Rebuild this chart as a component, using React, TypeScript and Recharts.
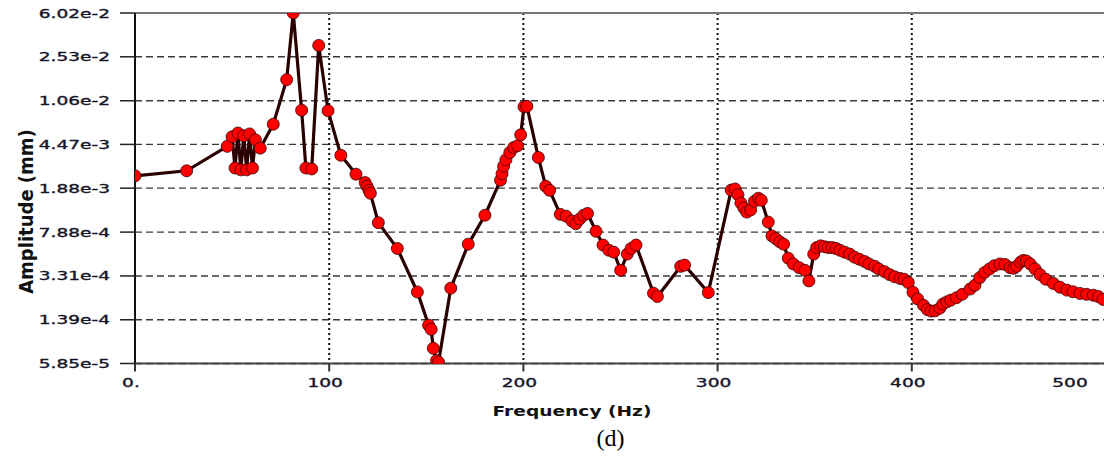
import React from 'react';
import { LineChart, Line, XAxis, YAxis, CartesianGrid, ReferenceLine } from 'recharts';

const frequencyHz = [
  0, 26.6, 47.5, 50, 51.5, 53, 54.5, 56, 57.5, 59, 60.5, 62, 64.5, 71.2, 78.1, 81.5, 85.8, 88, 91, 94.6,
  99.4, 106, 113.8, 118.5, 119.5, 120.5, 121.2, 125.3, 135.1, 145.4, 151.2, 152.5, 153.6, 155.3, 156.3,
  162.6, 171.6, 180.2, 188.2, 189, 189.8, 191, 193, 195, 197, 198.6, 200.3, 201.8, 207.7, 211.5, 213.5,
  219, 222, 225, 227, 229, 231, 233, 237.4, 241, 244, 246.5, 250.1, 253.5, 255.5, 258, 267, 269, 281, 283,
  295.2, 307, 309, 310.5, 312, 313.5, 315, 317, 319, 321, 322.5, 326.1, 328, 330, 332, 334, 336.4, 339,
  342, 345, 347, 349.5, 351, 353, 355, 357, 359, 361, 363, 365.4, 368, 370.5, 373, 375.7, 378, 380.9, 383,
  386, 388.5, 391.2, 394, 396, 398.2, 400.6, 403, 406, 408, 410, 412, 414.5, 416, 418, 420, 423, 426, 430,
  432.5, 435, 437.5, 440, 442.5, 445.4, 448, 450.6, 452.5, 454, 456, 457.4, 459, 461, 463.5, 466, 469,
  472.9, 476.3, 479.8, 483, 486.6, 490, 493.5, 496, 498.5,
];

const amplitudeMm = [
  2.4e-3, 2.65e-3, 4.3e-3, 5.2e-3, 2.8e-3, 5.6e-3, 2.7e-3, 5.3e-3, 2.7e-3, 5.5e-3, 2.8e-3, 4.9e-3, 4.15e-3,
  6.66e-3, 1.61e-2, 6.02e-2, 8.8e-3, 2.8e-3, 2.75e-3, 3.17e-2,
  8.7e-3, 3.6e-3, 2.48e-3, 2.1e-3, 1.95e-3, 1.8e-3, 1.7e-3, 9.5e-4, 5.7e-4, 2.41e-4, 1.25e-4, 1.15e-4,
  7.9e-5, 6.2e-5, 6.0e-5,
  2.6e-4, 6.2e-4, 1.1e-3, 2.2e-3, 2.5e-3, 2.9e-3, 3.3e-3, 3.8e-3, 4.2e-3, 4.35e-3, 5.4e-3, 9.4e-3, 9.5e-3,
  3.45e-3, 1.95e-3, 1.8e-3,
  1.12e-3, 1.08e-3, 9.8e-4, 9.3e-4, 1.02e-3, 1.1e-3, 1.14e-3, 8.0e-4, 6.1e-4, 5.5e-4, 5.3e-4, 3.7e-4,
  5.1e-4, 5.7e-4, 6.1e-4, 2.35e-4, 2.2e-4, 4.0e-4, 4.1e-4,
  2.38e-4, 1.81e-3, 1.85e-3, 1.65e-3, 1.4e-3, 1.27e-3, 1.17e-3, 1.22e-3, 1.45e-3, 1.54e-3, 1.48e-3,
  9.6e-4, 7.3e-4, 6.9e-4, 6.5e-4, 6.2e-4, 4.7e-4, 4.2e-4,
  3.9e-4, 3.7e-4, 3.0e-4, 5.1e-4, 5.8e-4, 6.0e-4, 5.9e-4, 5.8e-4, 5.8e-4, 5.7e-4, 5.5e-4, 5.3e-4, 5.1e-4,
  4.8e-4, 4.6e-4, 4.4e-4, 4.2e-4, 4.0e-4, 3.8e-4,
  3.6e-4, 3.4e-4, 3.25e-4, 3.15e-4, 3.1e-4, 2.9e-4, 2.4e-4, 2.1e-4, 1.85e-4, 1.7e-4, 1.65e-4, 1.66e-4,
  1.75e-4, 1.9e-4, 1.98e-4, 2.05e-4, 2.15e-4, 2.3e-4, 2.55e-4,
  2.75e-4, 3.2e-4, 3.55e-4, 3.8e-4, 4.05e-4, 4.2e-4, 4.15e-4, 3.9e-4, 3.85e-4, 4.0e-4, 4.35e-4, 4.5e-4,
  4.45e-4, 4.2e-4, 3.8e-4, 3.4e-4, 3.1e-4,
  2.85e-4, 2.65e-4, 2.5e-4, 2.42e-4, 2.34e-4, 2.3e-4, 2.26e-4, 2.2e-4, 2.08e-4,
];

const xTicks = [0, 100, 200, 300, 400, 500];
const xTickLabels = ['0.', '100', '200', '300', '400', '500'];
const yTicks = [5.85e-5, 1.39e-4, 3.31e-4, 7.88e-4, 1.88e-3, 4.47e-3, 1.06e-2, 2.53e-2, 6.02e-2];
const yTickLabels = ['5.85e-5', '1.39e-4', '3.31e-4', '7.88e-4', '1.88e-3', '4.47e-3', '1.06e-2', '2.53e-2', '6.02e-2'];

const xTitle = 'Frequency (Hz)';
const yTitle = 'Amplitude (mm)';
const caption = '(d)';

const data = frequencyHz.map((f, i) => ({ f, a: amplitudeMm[i] }));

const FONT = '"DejaVu Sans", Verdana, sans-serif';
const TICK_FILL = '#14142a';

const XTick = (props: any) => {
  const { x, y, payload, index } = props;
  const i = xTicks.indexOf(payload.value);
  const label = i >= 0 ? xTickLabels[i] : String(payload.value);
  const isLast = index === xTicks.length - 1;
  const tx = isLast ? 1070 : x - 4;
  return (
    <text
      transform={`translate(${tx},${y + 13}) scale(1.55,1)`}
      textAnchor="middle"
      fontFamily={FONT}
      fontSize={12}
      fill={TICK_FILL}
      stroke={TICK_FILL}
      strokeWidth={0.35}
    >
      {label}
    </text>
  );
};

const YTick = (props: any) => {
  const { x, y, payload } = props;
  let best = 0;
  let bd = Infinity;
  yTicks.forEach((t, i) => {
    const d = Math.abs(Math.log(t) - Math.log(payload.value));
    if (d < bd) {
      bd = d;
      best = i;
    }
  });
  return (
    <text
      transform={`translate(${x - 8},${y + 4.5}) scale(1.55,1)`}
      textAnchor="end"
      fontFamily={FONT}
      fontSize={12}
      fill={TICK_FILL}
      stroke={TICK_FILL}
      strokeWidth={0.35}
    >
      {yTickLabels[best]}
    </text>
  );
};

export default function App() {
  return (
    <div
      style={{
        position: 'absolute',
        left: 0,
        top: 0,
        width: 1104,
        height: 456,
        overflow: 'hidden',
        background: '#ffffff',
      }}
    >
      <LineChart
        width={1110}
        height={456}
        data={data}
        margin={{ top: 13, right: 4, bottom: 0, left: 0 }}
      >
        <CartesianGrid vertical={false} stroke="#3a3a3a" strokeWidth={1.4} strokeDasharray="7 4" />
        <CartesianGrid horizontal={false} stroke="#111111" strokeWidth={2} strokeDasharray="2 3" />
        <XAxis
          dataKey="f"
          type="number"
          domain={[0, 500]}
          ticks={xTicks}
          interval={0}
          allowDataOverflow
          tickSize={8}
          height={92.5}
          axisLine={{ stroke: '#444444', strokeWidth: 2 }}
          tickLine={{ stroke: '#333333', strokeWidth: 2 }}
          tick={<XTick />}
        />
        <YAxis
          dataKey="a"
          type="number"
          scale="log"
          domain={[5.85e-5, 6.02e-2]}
          ticks={yTicks}
          interval={0}
          allowDataOverflow
          width={135}
          tickSize={15}
          axisLine={{ stroke: '#111111', strokeWidth: 2 }}
          tickLine={{ stroke: '#222222', strokeWidth: 1.5 }}
          tick={<YTick />}
        />
        <ReferenceLine y={6.02e-2} stroke="#777777" strokeWidth={2} />
        <Line
          type="linear"
          dataKey="a"
          stroke="#2a0000"
          strokeWidth={3.2}
          isAnimationActive={false}
          dot={{ r: 6, fill: '#ff0000', stroke: '#3a0000', strokeWidth: 0.8 }}
          activeDot={false}
        />
      </LineChart>
      <svg
        width={1104}
        height={456}
        style={{ position: 'absolute', left: 0, top: 0, pointerEvents: 'none' }}
      >
        <text
          transform="translate(33,211.5) rotate(-90) scale(1.06,1.12)"
          textAnchor="middle"
          fontFamily={FONT}
          fontWeight="bold"
          fontSize={17}
          fill="#111111"
        >
          {yTitle}
        </text>
        <text
          transform="translate(572,416) scale(1.33,1)"
          textAnchor="middle"
          fontFamily={FONT}
          fontWeight="bold"
          fontSize={14}
          fill="#111111"
        >
          {xTitle}
        </text>
        <text
          x={610.5}
          y={446}
          textAnchor="middle"
          fontFamily='"Liberation Serif", "Times New Roman", serif'
          fontSize={24}
          fill="#000000"
        >
          {caption}
        </text>
      </svg>
    </div>
  );
}
